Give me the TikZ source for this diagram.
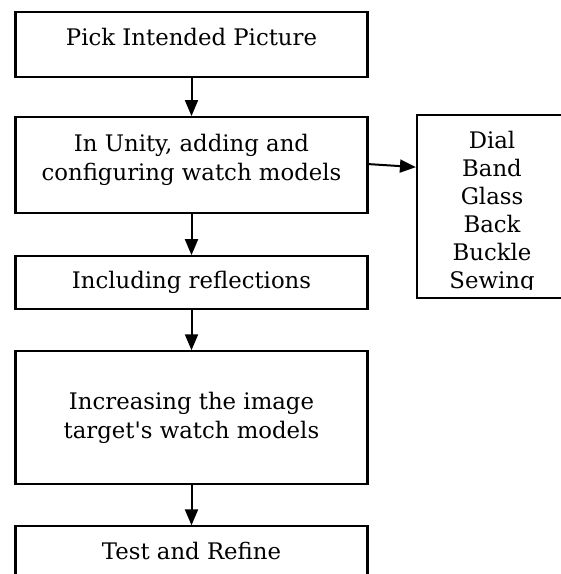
\documentclass[tikz,border=0pt]{standalone}
\usepackage{fontspec}
\setmainfont{DejaVu Serif}
\usetikzlibrary{positioning,arrows.meta}
\begin{document}
\begin{tikzpicture}[x=1pt,y=1pt,>={Triangle[length=16pt,width=13pt]},
  stepbox/.style={draw,line width=2.1pt,minimum width=352pt,align=center,font=\fontsize{22.8}{28.5}\selectfont},
  uptext/.style={text depth=16pt},
  flow/.style={->,line width=2pt}]
\useasboundingbox (0,0) rectangle (561,-574);
\node[stepbox,uptext,minimum height=65pt] (pick) at (191.5,-44.5) {Pick Intended Picture};
\node[stepbox,uptext,minimum height=96pt,below=38pt of pick] (unity) {In Unity, adding and\\configuring watch models};
\node[stepbox,minimum height=53pt,below=41pt of unity] (refl) {Including reflections};
\node[stepbox,minimum height=133pt,below=40pt of refl] (increase) {Increasing the image\\target\textquotesingle s watch models};
\node[stepbox,uptext,minimum height=65pt,below=40pt of increase] (test) {Test and Refine};
\node[draw,line width=2.1pt,minimum width=150pt,minimum height=183pt] (parts) at (492,-206.5) {};
\begin{scope}
\clip (parts.north west) rectangle (567,-289);
\node[anchor=north,align=center,inner sep=0pt,font=\fontsize{22.8}{28}\selectfont] (partlist) at (492,-131) {Dial\\Band\\Glass\\Back\\Buckle\\Sewing};
\end{scope}
\draw[flow] (pick) -- (unity);
\draw[flow] (unity) -- (refl);
\draw[flow] (refl) -- (increase);
\draw[flow] (increase) -- (test);
\draw[flow] ([yshift=1pt]unity.east) -- ([yshift=-2pt]parts.west |- unity.east);
\end{tikzpicture}
\end{document}
